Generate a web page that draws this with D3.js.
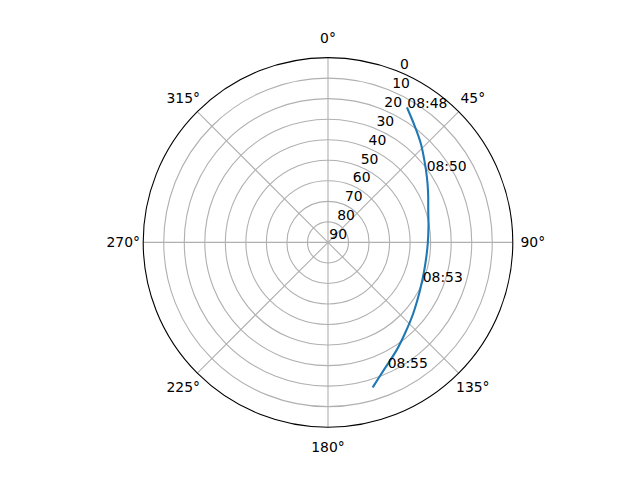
<!DOCTYPE html>
<html>
<head>
<meta charset="utf-8">
<script src="https://cdn.jsdelivr.net/npm/d3@7"></script>
<style>
  html, body { margin: 0; padding: 0; background: #ffffff; }
  svg { display: block; }
  text { font-family: "DejaVu Sans", sans-serif; font-size: 13.9px; fill: #000; }
</style>
</head>
<body>
<div id="chart"></div>
<script>
// ---- data ----
const trackAzimuth   = [30.6, 36.9, 43.1, 49.5, 56.4, 63.9, 72.1, 80.7, 90.5, 98.0, 106.0, 117.4, 129.7, 139.7, 147.5, 155.7, 162.6];
const trackElevation = [14.1, 19.5, 23.9, 28.3, 32.2, 35.7, 38.7, 40.4, 41.4, 41.6, 41.2, 39.5, 36.0, 32.0, 27.8, 22.7, 16.4];
const timeLabels     = ["08:48", "08:50", "08:53", "08:55"];
const timeAzimuth    = [30.6, 54.0, 112.9, 154.5];
const timeElevation  = [14.1, 30.6, 39.9, 22.4];
const thetaTicks     = [0, 45, 90, 135, 180, 225, 270, 315];
const radialTicks    = [0, 10, 20, 30, 40, 50, 60, 70, 80, 90];

// ---- layout ----
const W = 640, H = 480;
const cx = 328, cy = 242.4, R = 184.8;
const rad = d => d * Math.PI / 180;

const svg = d3.select("#chart").append("svg").attr("width", W).attr("height", H);
svg.append("rect").attr("width", W).attr("height", H).attr("fill", "#fff");
const g = svg.append("g").attr("transform", `translate(${cx},${cy})`);

const r = d3.scaleLinear().domain([90, 0]).range([0, R]);
const px = (az, el) => [r(el) * Math.sin(rad(az)), -r(el) * Math.cos(rad(az))];

// grid rings
g.append("g").selectAll("circle")
  .data(radialTicks.filter(v => v > 0 && v < 90))
  .join("circle")
  .attr("r", d => r(d))
  .attr("fill", "none").attr("stroke", "#b0b0b0").attr("stroke-width", 1.1);

// spokes
g.append("g").selectAll("line")
  .data(thetaTicks)
  .join("line")
  .attr("x1", 0).attr("y1", 0)
  .attr("x2", d => px(d, 0)[0]).attr("y2", d => px(d, 0)[1])
  .attr("stroke", "#b0b0b0").attr("stroke-width", 1.1);

// track
const data = trackAzimuth.map((a, i) => ({az: a, el: trackElevation[i]}));
const line = d3.lineRadial()
  .angle(d => rad(d.az))
  .radius(d => r(d.el))
  .curve(d3.curveCatmullRom);
g.append("path").datum(data)
  .attr("d", line)
  .attr("fill", "none").attr("stroke", "#1f77b4").attr("stroke-width", 2.08)
  .attr("stroke-linecap", "square");

// spine
g.append("circle").attr("r", R).attr("fill", "none").attr("stroke", "#000").attr("stroke-width", 1.1);

// time labels
g.append("g").selectAll("text")
  .data(timeLabels)
  .join("text")
  .attr("x", (d, i) => px(timeAzimuth[i], timeElevation[i])[0])
  .attr("y", (d, i) => px(timeAzimuth[i], timeElevation[i])[1])
  .attr("text-anchor", "start")
  .text(d => d);

// radial labels at 22.5°
g.append("g").selectAll("text")
  .data(radialTicks)
  .join("text")
  .attr("x", d => px(22.5, d)[0] + 1.3)
  .attr("y", d => px(22.5, d)[1] - 3)
  .attr("text-anchor", "start")
  .text(d => d);

// theta labels
const pad = 20;
g.append("g").selectAll("text")
  .data(thetaTicks)
  .join("text")
  .attr("x", d => (R + pad) * Math.sin(rad(d)))
  .attr("y", d => -(R + pad) * Math.cos(rad(d)))
  .attr("text-anchor", "middle")
  .attr("dominant-baseline", "central")
  .text(d => d + "°");
</script>
</body>
</html>
